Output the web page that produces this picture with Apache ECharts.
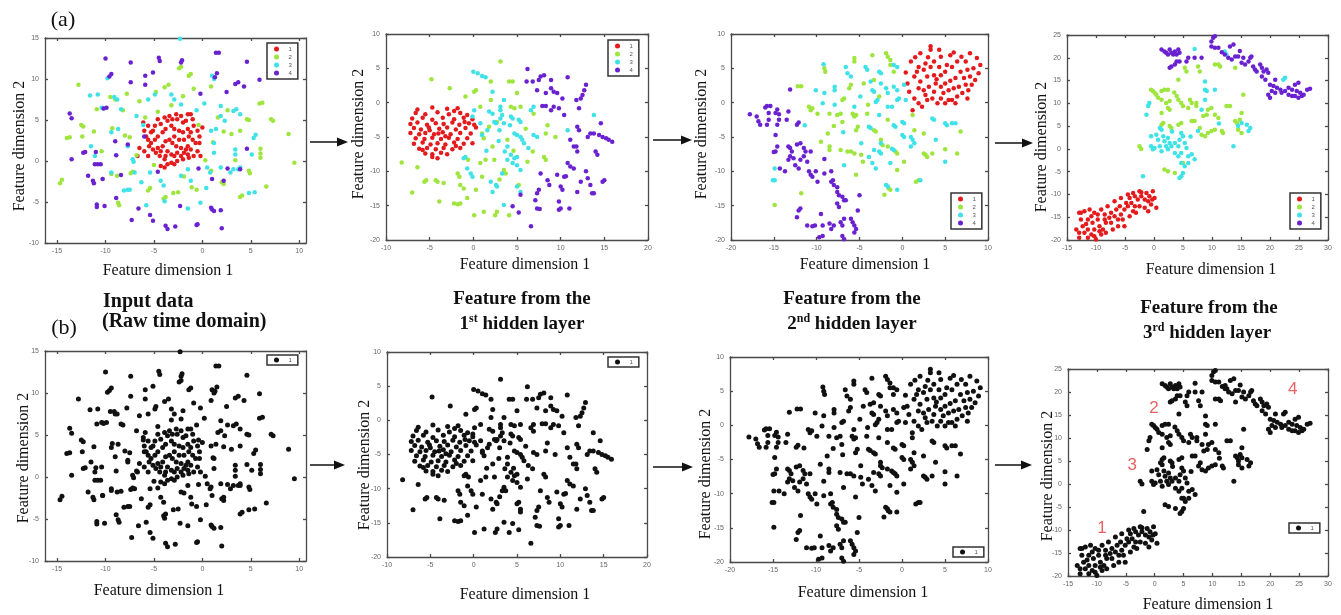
<!DOCTYPE html>
<html>
<head>
<meta charset="utf-8">
<script src="https://cdn.jsdelivr.net/npm/echarts@6/dist/echarts.min.js"></script>
<style>
  html, body { margin: 0; background: #fff; }
  #main { width: 1341px; height: 615px; }
</style>
</head>
<body>
<div id="main"></div>
<script>
// t-SNE style feature maps, 4 classes per panel; row (b) shows the same points in black

// input data (raw time domain)
const p0c1 = [[-6.0,3.7],[-6.1,4.7],[-5.6,4.3],[-5.3,3.5],[-4.9,4.3],[-4.6,5.1],[-4.3,4.5],[-3.9,5.3],[-3.6,4.9],[-3.4,5.5],[-3.1,5.1],[-2.7,5.7],[-2.6,5.1],[-2.2,5.5],[-2.0,4.7],[-1.7,4.9],[-1.5,5.7],[-1.2,5.7],[-1.0,5.1],[-0.9,4.3],[-0.5,3.7],[-0.3,3.0],[0.0,4.1],[-0.3,2.2],[-0.5,1.2],[-0.9,0.6],[-1.2,1.4],[-1.5,1.8],[-1.9,2.6],[-2.0,3.5],[-2.4,3.7],[-2.9,3.9],[-3.2,4.3],[-3.8,3.9],[-4.1,3.5],[-4.6,3.0],[-4.9,2.6],[-5.3,2.2],[-5.6,2.6],[-5.5,1.8],[-5.1,1.4],[-4.8,1.0],[-4.4,0.6],[-3.9,0.2],[-3.6,-0.4],[-3.2,-0.2],[-2.9,0.6],[-2.6,1.0],[-2.2,0.6],[-1.9,1.0],[-1.5,0.8],[-1.4,0.4],[-1.7,1.4],[-2.2,1.6],[-2.7,1.8],[-3.1,2.2],[-3.4,2.6],[-3.8,2.4],[-4.1,1.8],[-4.3,1.2],[-4.6,1.6],[-3.6,1.2],[-3.2,0.8],[-3.8,0.6],[-3.9,-0.8],[-4.3,-0.6],[-2.9,-0.4],[-2.6,0.0],[-2.0,0.2],[-1.0,2.6],[-1.2,3.5],[-0.7,2.2],[-0.2,0.6],[-6.7,0.6],[-6.5,1.6],[-6.0,1.2],[-5.6,0.6],[-5.8,3.0],[-5.1,3.7],[-2.9,3.0],[-2.4,2.6],[-1.5,3.9],[-1.4,3.0]];
const p0c2 = [[-12.8,9.3],[-14.7,-2.7],[-14.5,-2.3],[-14.0,2.8],[-13.7,2.9],[-12.5,4.4],[-12.3,4.2],[-12.4,3.0],[-9.5,7.8],[-9.0,7.5],[-8.2,6.2],[-7.8,8.2],[-6.5,7.3],[-4.8,8.4],[-3.9,9.0],[-3.5,9.3],[-2.4,11.3],[-2.2,11.5],[-1.4,10.4],[-1.2,10.6],[-0.9,8.8],[0.9,9.1],[-2.0,7.9],[-4.6,6.0],[-3.2,6.8],[-9.3,4.0],[-8.0,3.1],[-7.5,2.9],[-10.4,1.2],[-11.2,3.6],[-9.4,-1.6],[-8.8,-1.8],[-7.4,-1.5],[-7.2,-1.3],[-8.7,-5.1],[-8.6,-5.4],[-5.6,-3.6],[-5.4,-3.3],[-4.0,-4.6],[-3.8,-4.4],[-3.0,-3.9],[-2.5,-3.8],[-1.9,-1.9],[-1.1,-3.2],[-0.6,-3.5],[0.9,-1.2],[2.0,-2.6],[2.2,-2.8],[3.4,0.1],[3.9,3.7],[3.0,3.3],[4.6,5.1],[4.8,5.0],[7.1,5.1],[7.3,4.9],[6.2,7.1],[5.9,7.0],[6.0,0.9],[6.0,0.4],[6.0,1.5],[4.8,-1.2],[4.9,-1.5],[6.6,-3.1],[8.9,3.3],[9.5,-0.2],[3.9,-4.4],[4.1,-4.2],[1.6,5.3],[2.2,3.6],[-0.4,4.4],[-5.9,5.3],[-10.3,-2.2],[-10.9,6.3],[-6.8,0.7],[-5.0,-0.5],[0.3,0.1],[1.1,2.3],[2.6,6.2]];
const p0c3 = [[-10.8,8.1],[-9.8,10.1],[-9.1,7.8],[-8.8,7.5],[-10.4,6.5],[-10.2,6.4],[-8.4,6.3],[-8.7,3.9],[-9.4,3.5],[-7.7,1.8],[-7.2,0.2],[-7.1,-0.1],[-7.0,-1.4],[-9.4,-1.4],[-5.4,-1.4],[-4.3,-2.4],[-4.0,-3.0],[-5.8,-5.4],[-7.7,-3.5],[-7.5,-3.5],[-4.9,8.1],[-5.6,7.5],[-2.2,6.9],[-2.9,7.5],[0.2,7.0],[1.9,6.7],[1.9,5.5],[1.4,3.9],[0.9,3.7],[1.2,2.2],[1.2,1.0],[2.9,-1.4],[3.2,-1.0],[3.4,0.8],[3.4,1.4],[5.3,2.8],[5.5,3.2],[5.1,0.8],[3.9,-0.8],[3.7,-1.0],[-0.2,-5.1],[-1.2,-2.4],[-2.2,-1.8],[-1.5,-1.0],[0.5,-0.8],[0.8,-1.4],[1.9,-0.8],[3.2,6.1],[3.5,6.3],[1.2,10.0],[1.0,10.4],[-2.3,14.9],[-11.1,0.6],[-11.5,1.8],[-11.6,8.0],[-6.1,4.4],[-6.8,5.5],[4.8,-3.9],[5.4,-3.8],[-3.9,-4.9],[-6.3,-2.6],[-1.5,-5.8],[2.3,4.9],[3.9,5.7],[-0.6,6.2],[-3.2,8.1],[-8.1,-3.6],[0.4,-3.3]];
const p0c4 = [[-10.0,12.5],[-7.4,12.0],[-4.5,12.6],[-4.4,12.2],[-2.1,12.3],[-2.2,12.0],[1.4,13.2],[1.7,13.2],[4.6,12.1],[5.9,9.9],[3.4,9.4],[3.7,9.6],[4.3,9.1],[1.5,10.7],[1.3,10.2],[-0.2,8.2],[2.5,8.4],[-5.9,10.4],[-5.9,9.3],[-9.6,10.3],[-9.4,10.6],[-7.4,9.6],[-5.1,10.8],[-13.7,5.8],[-13.5,5.2],[-13.5,0.2],[-12.3,1.0],[-12.1,1.1],[-11.1,-0.4],[-10.8,-0.4],[-10.5,-0.4],[-10.2,6.4],[-9.9,6.5],[-9.0,2.4],[-8.9,0.7],[-11.8,-1.8],[-11.3,-2.4],[-11.2,-2.7],[-10.3,-2.2],[-10.9,-5.3],[-10.9,-5.6],[-10.1,-5.5],[-8.9,-4.5],[-6.6,-5.8],[-7.3,-7.2],[-5.4,-6.6],[-5.1,-7.3],[-3.8,-7.9],[-3.6,-8.3],[-2.8,-8.0],[-2.3,-5.5],[-0.5,-7.7],[-0.6,-7.8],[0.9,-5.7],[1.0,-5.9],[1.2,-6.1],[1.9,-6.0],[2.0,-8.2],[1.0,-2.2],[2.2,-2.4],[2.6,-0.9],[3.9,-1.0],[4.6,1.5],[-7.7,2.0],[-11.0,1.1],[-8.4,-1.7],[-6.0,3.0],[-4.6,-1.3],[-0.4,-0.9]];

// feature from the 1st hidden layer
const p1c1 = [[-4.7,-0.7],[-3.0,-0.9],[-1.8,-0.8],[-6.6,-1.5],[-5.5,-1.7],[-4.1,-1.4],[-2.8,-1.7],[-1.5,-1.5],[-0.7,-1.8],[-7.0,-2.3],[-5.8,-2.2],[-4.7,-2.5],[-3.5,-2.2],[-2.2,-2.4],[-1.1,-2.2],[-0.1,-2.4],[-7.2,-3.1],[-6.4,-2.9],[-5.3,-3.2],[-4.3,-3.0],[-3.4,-3.1],[-2.4,-2.9],[-1.6,-3.2],[-0.5,-3.0],[-6.8,-3.7],[-6.0,-3.9],[-5.1,-3.6],[-3.9,-3.8],[-3.0,-3.6],[-2.0,-3.9],[-0.9,-3.7],[0.3,-3.6],[-7.2,-4.4],[-6.2,-4.6],[-5.5,-4.4],[-4.5,-4.6],[-3.5,-4.3],[-2.6,-4.6],[-1.5,-4.4],[-0.3,-4.5],[-6.6,-5.2],[-5.6,-5.3],[-4.7,-5.1],[-3.7,-5.3],[-2.8,-5.1],[-1.8,-5.3],[-0.7,-5.2],[-6.8,-6.0],[-5.8,-5.8],[-4.9,-6.1],[-4.1,-5.9],[-3.2,-6.1],[-2.2,-5.8],[-1.1,-6.0],[-0.1,-5.9],[-6.2,-6.7],[-5.3,-6.6],[-4.3,-6.8],[-3.4,-6.6],[-2.4,-6.8],[-1.5,-6.6],[-5.5,-7.4],[-4.7,-7.5],[-3.7,-7.3],[-3.0,-7.5],[-4.7,-7.9],[-4.1,-8.1],[-6.4,-1.0],[-2.2,-1.2],[-5.0,-4.0],[-4.0,-4.5],[-3.2,-4.9],[-2.0,-6.3],[-5.8,-6.9],[-1.0,-2.8],[0.1,-3.2]];
const p1c2 = [[3.1,6.0],[-4.8,3.4],[-2.7,2.1],[-8.2,-8.7],[-7.0,-13.1],[-5.6,-11.5],[-5.4,-11.3],[-4.3,-11.3],[-4.1,-11.5],[-3.4,-11.7],[-3.9,-14.4],[-2.2,-14.7],[-1.8,-14.8],[-1.5,-14.7],[-0.7,-13.9],[0.1,-16.4],[1.2,-15.9],[2.5,-16.4],[2.7,-15.9],[4.1,-16.4],[-1.8,-10.3],[-1.6,-10.8],[-1.5,-12.0],[-1.1,-12.5],[0.3,-12.7],[1.0,-10.8],[0.8,-8.8],[2.4,-8.3],[3.5,-9.8],[3.7,-10.3],[6.2,-8.6],[6.8,-7.1],[8.1,-7.9],[8.3,-8.3],[9.4,-5.0],[8.3,-4.5],[8.5,-3.3],[3.9,-5.4],[2.2,-6.4],[1.4,-8.3],[1.2,-5.2],[1.0,-4.5],[1.8,-3.5],[2.7,-2.8],[4.3,-0.6],[4.7,-0.8],[5.4,-0.6],[5.0,1.4],[4.1,3.1],[4.5,3.1],[0.1,1.6],[0.3,1.8],[-0.9,0.9],[0.8,-0.6],[2.0,0.4],[2.0,3.1],[6.9,-1.6],[3.0,-11.2],[5.2,-12.0],[-0.6,-8.3],[6.0,-3.8],[4.6,-7.0],[-6.4,-9.4]];
const p1c3 = [[0.0,4.5],[0.5,4.3],[1.0,3.9],[1.4,3.7],[0.1,-1.1],[2.2,1.6],[1.8,-1.3],[2.2,-1.6],[3.1,-0.6],[3.1,-1.1],[3.3,-1.8],[3.1,-2.3],[2.4,-2.8],[2.6,-3.0],[3.5,-3.0],[4.3,-2.0],[4.5,-2.3],[5.2,-2.5],[5.4,-2.8],[5.0,-4.7],[5.4,-5.0],[5.6,-5.4],[5.8,-5.9],[4.3,-7.6],[4.7,-8.1],[5.0,-7.9],[3.9,-8.3],[4.5,-8.8],[5.0,-9.1],[5.4,-9.8],[3.3,-10.3],[2.0,-11.5],[2.6,-12.0],[2.7,-12.2],[2.2,-13.0],[3.5,-14.9],[5.0,-12.2],[5.4,-13.0],[-0.7,-9.6],[-0.3,-10.3],[-0.1,-10.8],[-1.1,-8.1],[-0.9,-7.9],[-0.1,-2.0],[0.8,-3.0],[1.0,-4.7],[1.6,-4.0],[6.6,-1.1],[6.9,-0.6],[6.9,-4.7],[7.3,-5.0],[10.8,-4.0],[13.8,-1.8],[4.7,-4.5],[3.9,-6.4],[3.6,-7.1],[3.5,0.4],[2.9,-5.6],[1.5,-7.0],[6.3,-6.6],[3.0,-4.0],[4.2,-3.3]];
const p1c4 = [[6.2,4.9],[6.1,3.1],[6.8,3.1],[7.5,3.3],[7.7,3.8],[8.1,4.0],[8.9,3.3],[7.3,1.8],[8.3,1.4],[8.9,2.1],[9.2,1.6],[9.6,1.4],[10.2,0.6],[10.8,3.7],[12.9,2.6],[12.7,1.8],[12.5,1.1],[12.3,0.6],[11.8,0.4],[7.9,-0.5],[8.3,-0.5],[9.2,-0.6],[8.9,-1.1],[9.8,-0.8],[10.4,-1.8],[12.1,-0.8],[11.9,-3.5],[12.1,-4.0],[11.1,-5.4],[11.5,-6.4],[11.8,-6.4],[11.9,-7.1],[13.1,-5.0],[13.4,-4.5],[13.8,-4.5],[14.4,-4.7],[14.8,-5.0],[15.2,-5.2],[15.5,-5.4],[15.9,-5.7],[14.6,-3.0],[14.0,-7.1],[14.2,-7.6],[10.8,-8.8],[11.1,-9.3],[11.5,-9.6],[9.6,-10.5],[10.4,-10.8],[10.6,-10.7],[7.7,-10.3],[8.5,-11.3],[8.7,-12.0],[10.0,-12.2],[10.2,-12.7],[7.5,-12.7],[7.3,-13.2],[7.1,-14.2],[7.3,-15.4],[7.6,-15.5],[10.0,-15.4],[9.8,-15.6],[11.0,-15.4],[9.8,-14.4],[11.9,-13.0],[12.9,-10.0],[13.1,-11.0],[13.4,-12.0],[13.6,-13.2],[13.8,-13.2],[12.3,-11.5],[14.8,-11.5],[15.0,-11.3],[5.4,-13.4],[4.5,-15.1],[5.2,-16.0],[6.6,-18.0]];

// feature from the 2nd hidden layer
const p2c1 = [[3.3,7.7],[2.1,7.2],[1.0,6.0],[1.9,5.2],[2.7,5.7],[3.7,6.0],[4.5,6.7],[1.4,3.8],[0.6,2.8],[0.8,1.6],[1.4,0.6],[1.9,-0.1],[1.2,-1.1],[2.3,-0.6],[2.9,0.4],[3.5,0.6],[4.1,-0.1],[4.5,0.6],[5.0,-0.1],[2.5,1.8],[3.1,2.3],[3.9,2.8],[4.5,2.3],[5.0,2.8],[2.1,3.1],[2.9,3.8],[3.7,4.0],[4.5,4.0],[5.0,4.5],[1.7,4.5],[2.5,4.8],[3.3,5.2],[4.3,5.2],[5.2,5.5],[1.9,2.1],[2.7,1.1],[3.7,1.6],[4.8,1.4],[5.4,1.8],[5.4,0.4],[5.8,5.2],[6.4,6.0],[6.9,6.7],[7.9,7.2],[8.7,6.5],[9.1,5.5],[8.3,5.0],[7.6,4.8],[6.8,4.5],[6.2,3.6],[7.2,3.6],[7.9,3.8],[8.5,3.3],[8.1,2.6],[7.4,2.6],[6.6,2.3],[6.0,2.1],[7.0,1.4],[6.4,0.9],[7.6,0.6],[5.8,0.4],[6.2,-0.1],[7.7,1.8],[8.9,4.3],[7.4,6.0],[3.3,8.2],[4.3,7.7],[5.6,6.9],[6.0,7.3],[3.0,6.6],[1.5,6.6],[0.4,4.4],[5.6,3.2],[4.0,3.4]];
const p2c2 = [[-9.1,5.0],[-9.0,4.5],[-12.2,2.4],[-11.8,2.4],[-5.6,6.5],[-5.6,6.0],[-3.5,6.9],[-1.9,7.2],[-1.7,6.7],[-1.4,6.2],[-1.4,5.5],[-1.0,4.5],[-6.0,2.6],[-6.2,2.1],[-4.5,2.8],[-10.9,-0.6],[-10.7,-1.1],[-10.5,-0.8],[-9.9,-1.6],[-8.5,-1.6],[-7.6,-1.8],[-7.2,-1.6],[-5.8,-1.6],[-5.6,-2.0],[-5.4,-1.8],[-7.0,-2.8],[-8.7,-4.5],[-9.5,-5.7],[-8.5,-6.4],[-8.5,-6.9],[-7.2,-6.9],[-6.4,-7.1],[-6.0,-7.1],[-5.6,-7.4],[-4.8,-7.6],[-4.6,-8.6],[-5.4,-10.5],[-3.3,-4.0],[-3.1,-4.2],[-2.5,-5.4],[-2.3,-6.2],[-1.7,-6.4],[-0.8,-7.1],[-0.6,-7.4],[-1.6,-12.5],[-1.4,-12.7],[-2.1,-13.4],[-0.6,-9.8],[0.2,-8.6],[1.6,-11.5],[1.9,-11.3],[2.5,-7.4],[2.7,-7.6],[2.9,-7.9],[3.5,-7.4],[1.2,-1.8],[1.4,-4.0],[2.5,-4.5],[-11.8,-13.2],[-14.9,-14.9],[-4.1,-1.6],[-5.2,-3.5],[-5.4,-4.0],[-7.0,0.4],[-6.8,0.6],[-3.3,3.3],[-1.7,-2.5],[-2.7,0.9],[-4.0,-0.3],[-8.0,-3.4],[6.8,-4.2],[6.4,-7.4],[5.0,-6.8]];
const p2c3 = [[-9.2,5.6],[-10.1,1.8],[-9.1,1.4],[-7.9,2.3],[-7.9,1.8],[-7.9,-0.3],[-9.3,-0.1],[-6.4,4.3],[-6.6,5.2],[-4.3,5.2],[-4.1,4.8],[-6.0,3.8],[-3.5,1.8],[-3.3,1.6],[-3.7,3.1],[-2.7,4.5],[-2.5,4.3],[-2.5,2.8],[-1.0,5.5],[-0.6,5.2],[-1.9,2.1],[-1.7,1.4],[-1.0,2.3],[-0.6,1.8],[0.2,2.6],[-0.6,0.4],[-0.4,0.6],[-1.2,-0.6],[0.4,0.4],[-1.7,-0.6],[-2.9,0.4],[-3.1,0.1],[-5.6,-0.6],[-3.9,-3.5],[-3.7,-3.7],[-2.7,-1.8],[-1.0,-3.3],[-0.8,-3.5],[0.0,-2.8],[0.2,-3.0],[0.0,-4.7],[0.2,-5.0],[1.0,-5.0],[1.2,-5.4],[1.4,-5.9],[1.0,-6.4],[-1.2,-6.7],[-1.0,-6.9],[-2.5,-5.9],[-2.7,-7.1],[-2.5,-7.4],[-3.3,-6.9],[-4.8,-5.9],[-3.9,-7.9],[-3.5,-8.8],[-3.1,-9.6],[-1.4,-8.8],[-1.9,-12.0],[-1.7,-12.2],[-0.6,-12.7],[2.1,-11.3],[-6.8,-9.1],[-11.4,-3.3],[-14.9,-9.6],[-15.1,-11.3],[-14.9,-11.3],[3.5,-2.3],[3.7,-2.5],[5.0,-3.0],[5.2,-3.3],[3.9,-5.4],[5.0,-8.6],[5.8,-3.0],[6.2,-3.0],[-4.9,0.9],[-6.9,-4.3]];
const p2c4 = [[-17.8,-1.7],[-17.0,-2.0],[-16.8,-2.7],[-16.6,-3.2],[-16.0,-0.7],[-15.8,-0.5],[-15.4,-0.5],[-15.6,-1.5],[-14.8,-1.5],[-14.6,-1.0],[-14.4,-1.7],[-14.4,-2.5],[-14.6,-3.2],[-15.6,-2.5],[-15.8,-3.2],[-13.5,-2.5],[-13.3,-1.3],[-14.8,-4.7],[-14.6,-6.4],[-14.8,-7.1],[-15.0,-7.2],[-12.1,-2.9],[-12.3,-3.2],[-13.3,-6.4],[-13.1,-6.6],[-12.9,-7.1],[-12.7,-8.1],[-13.1,-7.8],[-13.3,-8.3],[-12.3,-6.1],[-11.9,-5.9],[-11.5,-6.6],[-11.3,-7.1],[-10.7,-7.1],[-11.5,-7.8],[-11.9,-8.3],[-11.1,-8.6],[-12.5,-9.1],[-12.1,-9.6],[-14.3,-9.6],[-13.7,-10.0],[-10.9,-10.0],[-10.7,-10.5],[-10.5,-10.8],[-10.1,-10.0],[-9.1,-10.3],[-9.9,-11.5],[-9.1,-8.2],[-8.3,-10.0],[-8.1,-11.3],[-8.3,-11.5],[-8.0,-12.0],[-7.6,-12.3],[-7.6,-13.0],[-7.4,-13.5],[-7.0,-13.7],[-6.8,-14.2],[-6.6,-14.2],[-7.6,-14.7],[-7.4,-15.2],[-5.0,-13.5],[-5.2,-15.7],[-12.1,-15.7],[-11.9,-15.4],[-12.3,-16.7],[-11.1,-17.9],[-10.5,-18.0],[-10.2,-17.9],[-9.5,-16.2],[-9.3,-17.9],[-8.5,-17.6],[-8.3,-18.4],[-8.0,-17.9],[-7.2,-17.4],[-7.0,-17.9],[-6.8,-16.9],[-6.0,-16.9],[-5.8,-17.4],[-5.6,-17.9],[-5.4,-18.4],[-5.6,-18.9],[-7.0,-19.4],[-6.8,-19.9],[-9.7,-19.6],[-9.3,-19.4],[-13.1,1.9]];

// feature from the 3rd hidden layer
const p3c1 = [[-12.9,-14.0],[-12.6,-15.5],[-12.0,-13.7],[-12.3,-17.0],[-12.9,-18.4],[-12.0,-18.4],[-11.4,-17.7],[-10.8,-18.8],[-10.3,-19.2],[-10.0,-19.9],[-10.8,-14.8],[-11.4,-15.5],[-10.3,-14.0],[-9.7,-15.5],[-9.4,-17.0],[-8.8,-17.7],[-9.1,-18.8],[-8.3,-16.2],[-7.7,-15.1],[-7.4,-14.0],[-6.8,-14.8],[-6.5,-13.3],[-5.9,-12.6],[-6.2,-15.5],[-5.7,-14.4],[-5.1,-13.3],[-4.8,-11.9],[-4.2,-10.8],[-3.9,-11.9],[-3.3,-12.6],[-3.6,-13.7],[-3.1,-14.0],[-2.8,-11.1],[-2.2,-10.4],[-1.6,-11.1],[-1.0,-11.5],[-0.5,-12.2],[0.4,-12.9],[0.1,-10.8],[-0.8,-10.4],[-2.2,-9.5],[-3.3,-10.4],[-4.5,-12.6],[-5.4,-15.5],[-7.1,-17.7],[-8.3,-18.4],[-9.4,-18.1],[-10.3,-17.7],[-11.4,-19.5],[-12.9,-19.5],[-13.4,-17.7],[-12.6,-14.0],[-11.1,-13.3],[-9.1,-13.3],[-8.5,-14.4],[-8.0,-12.6],[-6.8,-11.5],[-5.7,-10.8],[-4.5,-10.0],[-3.6,-9.7],[-2.5,-12.6],[-1.6,-12.9],[-1.0,-13.7],[-4.2,-14.8],[-5.1,-17.0],[-6.2,-17.0],[-7.4,-16.2],[-8.5,-15.5],[-9.7,-14.4],[-10.6,-16.2],[-11.7,-16.5],[-2.5,-9.3],[-1.3,-9.7],[-0.2,-9.3],[-0.3,-11.1]];
const p3c2 = [[-2.5,0.6],[-2.2,0.0],[-0.5,13.0],[-0.2,12.7],[0.1,12.3],[0.4,11.9],[1.3,12.7],[1.8,13.0],[2.4,13.0],[0.7,11.2],[1.3,10.8],[2.1,10.1],[2.7,10.5],[2.4,9.0],[2.7,8.6],[3.9,11.6],[4.2,10.8],[4.7,10.1],[5.0,9.4],[5.9,9.0],[6.2,10.8],[6.5,10.1],[7.3,10.1],[7.3,9.4],[5.3,17.8],[5.6,17.0],[7.6,18.1],[7.9,17.0],[4.2,15.2],[10.5,18.5],[11.1,18.5],[11.4,18.1],[14.0,17.8],[15.4,11.9],[1.3,5.3],[1.6,5.7],[2.7,5.0],[3.0,4.6],[4.2,5.3],[4.7,5.7],[6.5,6.1],[7.0,6.1],[7.9,4.6],[8.2,3.1],[8.8,2.8],[9.3,3.5],[9.9,3.9],[10.5,4.2],[11.7,3.9],[11.9,3.5],[10.5,7.5],[11.1,6.8],[8.5,7.2],[9.1,7.5],[9.3,8.6],[9.9,9.0],[12.5,9.4],[13.1,9.4],[14.0,6.1],[14.3,5.7],[14.8,6.4],[15.1,7.9],[14.5,4.2],[15.1,3.5],[1.8,-4.5],[2.4,-4.9],[3.6,-5.3],[5.0,-3.1],[1.3,7.9],[3.5,12.4]];
const p3c3 = [[-1.0,9.4],[-0.8,10.1],[-1.3,7.5],[-0.5,2.8],[1.0,4.6],[1.3,4.2],[0.4,3.1],[0.7,2.0],[1.6,2.8],[1.8,1.7],[2.4,2.4],[2.7,1.3],[-0.5,0.6],[-0.2,-0.1],[0.1,0.2],[1.0,0.6],[1.3,-0.5],[2.1,0.6],[2.4,-0.1],[3.0,0.6],[3.6,1.3],[4.2,0.6],[4.4,2.0],[4.7,3.5],[5.0,2.8],[5.3,1.3],[5.6,0.2],[3.6,-0.9],[4.2,-1.6],[4.7,-0.9],[5.9,-1.6],[6.5,-1.2],[7.0,-2.3],[4.7,-3.1],[5.3,-3.8],[5.0,-5.3],[4.7,-6.0],[4.4,-6.4],[5.9,-3.1],[-1.9,-6.0],[8.2,8.6],[8.8,10.8],[8.8,13.0],[9.1,12.7],[10.5,13.0],[8.8,14.8],[7.0,21.9],[12.2,21.4],[12.5,20.7],[9.3,25.1],[22.6,15.6],[22.3,15.2],[7.6,3.9],[13.7,0.6],[14.5,5.0],[15.1,5.7],[16.0,5.3],[16.6,4.6],[16.3,3.9],[3.1,3.8],[6.3,2.7],[11.2,5.6]];
const p3c4 = [[1.3,21.8],[1.8,21.4],[2.1,21.1],[2.7,21.8],[3.0,21.1],[3.6,21.4],[4.2,21.8],[4.4,21.1],[3.9,20.7],[2.4,20.7],[3.3,20.7],[2.7,17.8],[3.0,18.1],[3.9,19.2],[4.4,19.2],[5.6,19.2],[7.0,20.0],[8.2,20.0],[9.9,22.5],[10.5,22.2],[11.1,22.2],[10.2,24.4],[10.5,24.7],[9.9,23.6],[12.2,20.7],[13.1,22.5],[13.7,22.9],[12.8,20.0],[13.4,19.6],[14.0,20.3],[14.5,20.3],[15.4,20.0],[15.1,18.9],[15.7,18.5],[16.3,19.2],[16.6,20.0],[16.8,20.3],[17.1,18.1],[17.4,17.4],[17.7,17.0],[18.3,18.5],[18.6,17.8],[18.9,17.0],[19.4,17.4],[19.7,16.7],[18.6,15.9],[19.2,15.2],[20.0,14.1],[20.6,13.8],[21.2,13.4],[20.3,12.7],[20.9,12.3],[19.7,11.9],[20.0,11.2],[21.8,13.0],[22.0,12.3],[22.6,12.7],[23.2,13.4],[23.8,13.0],[24.3,14.1],[24.9,14.5],[24.6,12.7],[25.2,12.3],[25.5,11.6],[25.8,11.9],[24.3,11.6],[24.9,11.2],[26.4,13.0],[26.9,13.2],[23.2,11.9],[23.8,11.6],[20.9,15.2],[5.9,20.0],[3.6,18.5],[11.7,21.2],[14.8,21.5]];

// tick labels
const inputXTicks = [-15, -10, -5, 0, 5, 10];
const inputYTicks = [-10, -5, 0, 5, 10, 15];
const layer1XTicks = [-10, -5, 0, 5, 10, 15, 20];
const layer1YTicks = [-20, -15, -10, -5, 0, 5, 10];
const layer2XTicks = [-20, -15, -10, -5, 0, 5, 10];
const layer2YTicks = [-20, -15, -10, -5, 0, 5, 10];
const layer3XTicks = [-15, -10, -5, 0, 5, 10, 15, 20, 25, 30];
const layer3YTicks = [-20, -15, -10, -5, 0, 5, 10, 15, 20, 25];

// cluster numbers written on the last black panel
const noteLabels = ['1', '2', '3', '4'];
const noteX = [-9.1, -0.1, -3.9, 23.9];
const noteY = [-9.6, 16.5, 4.1, 20.6];

const classNames = ['1', '2', '3', '4'];
const classColors = ['#e41a1c', '#9ee63e', '#3fe2e6', '#6a22d0'];

const panels = [
  { classes: [p0c1, p0c2, p0c3, p0c4], xRange: [-16.25, 10.7], yRange: [-10, 15], xTicks: inputXTicks, yTicks: inputYTicks },
  { classes: [p1c1, p1c2, p1c3, p1c4], xRange: [-10, 20], yRange: [-20, 10], xTicks: layer1XTicks, yTicks: layer1YTicks },
  { classes: [p2c1, p2c2, p2c3, p2c4], xRange: [-20, 10], yRange: [-20, 10], xTicks: layer2XTicks, yTicks: layer2YTicks },
  { classes: [p3c1, p3c2, p3c3, p3c4], xRange: [-15, 30], yRange: [-20, 25], xTicks: layer3XTicks, yTicks: layer3YTicks }
];

// [left, top, width, height] of every plot box
const topBoxes = [[45, 38, 261, 205], [386, 34, 262, 206], [731, 34, 257, 206], [1067, 35, 261, 205]];
const bottomBoxes = [[45, 351, 261, 210], [387, 352, 260, 205], [730, 357, 258, 205], [1068, 369, 260, 207]];
const topLegendPos = [[267, 43], [608, 40], [951, 193], [1290, 193]];
const bottomLegendPos = [[267, 355], [608, 357], [953, 547], [1289, 523]];

const serif = 'Liberation Serif';
const sans = 'Liberation Sans';
const lineStyle = { color: '#4a4a4a', width: 1.3 };

const grid = [];
const xAxis = [];
const yAxis = [];
const series = [];
const legend = [];

function addPanel(box, p) {
  const g = grid.length;
  grid.push({ left: box[0], top: box[1], width: box[2], height: box[3] });
  const common = { gridIndex: g, type: 'value', splitLine: { show: false } };
  xAxis.push({
    ...common, position: 'bottom', min: p.xRange[0], max: p.xRange[1],
    axisLine: { show: true, onZero: false, lineStyle },
    axisTick: { show: true, inside: true, length: 3, customValues: p.xTicks, lineStyle },
    axisLabel: { customValues: p.xTicks, fontSize: 7, color: '#666', margin: 5, fontFamily: sans }
  });
  xAxis.push({
    ...common, position: 'top', min: p.xRange[0], max: p.xRange[1],
    axisLine: { show: true, onZero: false, lineStyle },
    axisTick: { show: true, inside: true, length: 3, customValues: p.xTicks, lineStyle },
    axisLabel: { show: false }
  });
  yAxis.push({
    ...common, position: 'left', min: p.yRange[0], max: p.yRange[1],
    axisLine: { show: true, onZero: false, lineStyle },
    axisTick: { show: true, inside: true, length: 3, customValues: p.yTicks, lineStyle },
    axisLabel: { customValues: p.yTicks, fontSize: 7, color: '#666', margin: 6, fontFamily: sans }
  });
  yAxis.push({
    ...common, position: 'right', min: p.yRange[0], max: p.yRange[1],
    axisLine: { show: true, onZero: false, lineStyle },
    axisTick: { show: true, inside: true, length: 3, customValues: p.yTicks, lineStyle },
    axisLabel: { show: false }
  });
  return g;
}

const legendBase = {
  orient: 'vertical', icon: 'circle', itemWidth: 14, itemHeight: 5, itemGap: 2,
  borderColor: '#333', borderWidth: 1.5, backgroundColor: '#fff',
  textStyle: { fontSize: 6, color: '#555', fontFamily: sans },
  selectedMode: false
};

panels.forEach((p, i) => {
  // colored row (a)
  const g = addPanel(topBoxes[i], p);
  p.classes.forEach((pts, k) => {
    series.push({
      type: 'scatter', name: classNames[k], xAxisIndex: 2 * g, yAxisIndex: 2 * g,
      data: pts, symbolSize: 4.5, itemStyle: { color: classColors[k], opacity: 1 }, silent: true
    });
  });
  legend.push({ ...legendBase, data: classNames, left: topLegendPos[i][0], top: topLegendPos[i][1], padding: [3, 6, 3, 7] });

  // black row (b): same points, no class colors
  const gb = addPanel(bottomBoxes[i], p);
  series.push({
    type: 'scatter', name: 'all', xAxisIndex: 2 * gb, yAxisIndex: 2 * gb,
    data: [].concat(...p.classes), symbolSize: 5, itemStyle: { color: '#111', opacity: 1 }, silent: true
  });
  legend.push({ ...legendBase, data: ['all'], formatter: () => '1', left: bottomLegendPos[i][0], top: bottomLegendPos[i][1], padding: [2, 6, 2, 7] });
});

// red cluster numbers, in data coordinates of the last panel
series.push({
  type: 'scatter', name: 'notes', xAxisIndex: 14, yAxisIndex: 14, symbolSize: 0, silent: true,
  data: noteLabels.map((t, i) => ({ name: t, value: [noteX[i], noteY[i]] })),
  label: { show: true, position: 'inside', formatter: '{b}', color: '#e0393b', fontSize: 17, fontFamily: sans }
});

function text(str, x, y, size, extra) {
  return {
    type: 'text', x, y, silent: true,
    style: Object.assign({ text: str, fontSize: size, fontFamily: serif, fill: '#111', align: 'center', verticalAlign: 'middle' }, extra || {})
  };
}
function yText(x, y) {
  const t = text('Feature dimension 2', x, y, 16);
  t.rotation = Math.PI / 2;
  return t;
}
function caption(x, y, head, sup) {
  return {
    type: 'text', x, y, silent: true,
    style: {
      text: '{n|' + head + '}{s|' + sup + '}{n| hidden layer}',
      align: 'center', verticalAlign: 'middle',
      rich: {
        n: { fontSize: 19, fontWeight: 'bold', fontFamily: serif, fill: '#111', lineHeight: 22 },
        s: { fontSize: 12, fontWeight: 'bold', fontFamily: serif, fill: '#111', verticalAlign: 'top' }
      }
    }
  };
}
function arrow(x1, x2, y) {
  return {
    type: 'group', silent: true,
    children: [
      { type: 'line', shape: { x1, y1: y, x2: x2 - 9, y2: y }, style: { stroke: '#111', lineWidth: 1.5 } },
      { type: 'polygon', shape: { points: [[x2, y], [x2 - 11, y - 4.5], [x2 - 11, y + 4.5]] }, style: { fill: '#111' } }
    ]
  };
}

const bold = { fontWeight: 'bold', fontSize: 19 };
const graphic = [
  text('(a)', 63, 20, 22),
  text('(b)', 64, 328, 22),
  // x axis titles
  text('Feature dimension 1', 168, 271, 16), text('Feature dimension 1', 525, 265, 16),
  text('Feature dimension 1', 865, 265, 16), text('Feature dimension 1', 1211, 270, 16),
  text('Feature dimension 1', 159, 591, 16), text('Feature dimension 1', 525, 595, 16),
  text('Feature dimension 1', 863, 593, 16), text('Feature dimension 1', 1208, 605, 16),
  // y axis titles
  yText(20, 146), yText(359, 134), yText(702, 134), yText(1042, 147),
  yText(24, 458), yText(365, 465), yText(706, 474), yText(1048, 476),
  // panel captions
  text('Input data', 103, 302, 20, { align: 'left', fontWeight: 'bold' }),
  text('(Raw time domain)', 102, 322, 20, { align: 'left', fontWeight: 'bold' }),
  text('Feature from the', 522, 299, 19, bold), caption(522, 324, '1', 'st'),
  text('Feature from the', 852, 299, 19, bold), caption(852, 324, '2', 'nd'),
  text('Feature from the', 1209, 308, 19, bold), caption(1207, 333, '3', 'rd'),
  // arrows between stages
  arrow(310, 348, 142), arrow(653, 692, 140), arrow(995, 1033, 143),
  arrow(310, 345, 465), arrow(653, 693, 467), arrow(995, 1032, 465)
];

const chart = echarts.init(document.getElementById('main'));
chart.setOption({
  animation: false,
  backgroundColor: '#fff',
  grid, xAxis, yAxis, series, legend, graphic
});
</script>
</body>
</html>
